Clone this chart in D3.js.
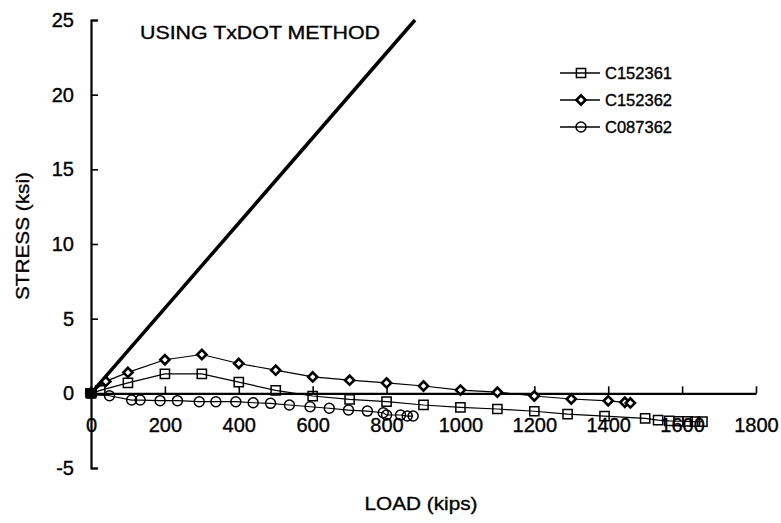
<!DOCTYPE html>
<html>
<head>
<meta charset="utf-8">
<script src="https://cdn.jsdelivr.net/npm/d3@7"></script>
<style>
  html, body { margin: 0; padding: 0; background: #fff; }
  svg { display: block; font-family: "Liberation Sans", Arial, sans-serif; }
</style>
</head>
<body>
<svg id="chart" width="781" height="523"></svg>
<script>
// ---- data ----
const seriesNames = ["C152361", "C152362", "C087362"];
const loadC152361 = [0, 25, 100, 200, 300, 400, 500, 600, 700, 800, 900, 1000, 1100, 1200, 1290, 1390, 1500, 1535, 1565, 1590, 1615, 1635, 1655];
const stressC152361 = [0, 0.2, 0.7, 1.3, 1.3, 0.75, 0.2, -0.18, -0.4, -0.56, -0.78, -0.94, -1.05, -1.2, -1.39, -1.52, -1.68, -1.79, -1.85, -1.87, -1.88, -1.89, -1.9];
const loadC152362 = [0, 40, 100, 200, 300, 400, 500, 600, 700, 800, 900, 1000, 1100, 1200, 1300, 1400, 1445, 1460];
const stressC152362 = [0, 0.8, 1.4, 2.25, 2.6, 2.0, 1.55, 1.1, 0.88, 0.7, 0.49, 0.22, 0.08, -0.18, -0.38, -0.5, -0.6, -0.64];
const loadC087362 = [0, 50, 110, 133, 187, 234, 293, 338, 392, 439, 486, 537, 593, 645, 697, 748, 791, 800, 838, 856, 872];
const stressC087362 = [0, -0.16, -0.45, -0.45, -0.49, -0.49, -0.56, -0.56, -0.56, -0.63, -0.67, -0.78, -0.9, -1.0, -1.12, -1.19, -1.3, -1.45, -1.45, -1.52, -1.52];
const txdotLoad = [0, 877];
const txdotStress = [0, 25];
const xTicks = [0, 200, 400, 600, 800, 1000, 1200, 1400, 1600, 1800];
const yTicks = [-5, 0, 5, 10, 15, 20, 25];
const titleText = "USING TxDOT METHOD";
const xTitle = "LOAD (kips)";
const yTitle = "STRESS (ksi)";

// ---- setup ----
const svg = d3.select("#chart");
const x = d3.scaleLinear().domain([0, 1800]).range([91, 756]);
const y = d3.scaleLinear().domain([-5, 25]).range([468, 20]);
const fmt = d => String(d);
const textStroke = sel => sel.attr("fill", "#000").attr("stroke", "#000").attr("stroke-width", 0.35);

const series = [
  { name: seriesNames[0], load: loadC152361, stress: stressC152361, shape: "square" },
  { name: seriesNames[1], load: loadC152362, stress: stressC152362, shape: "diamond" },
  { name: seriesNames[2], load: loadC087362, stress: stressC087362, shape: "circle" }
];

// axes
const xAxis = svg.append("g")
  .attr("transform", `translate(0,${y(0)})`)
  .call(d3.axisBottom(x).tickValues(xTicks).tickFormat(fmt)
    .tickSize(-7).tickSizeOuter(0).tickPadding(24));
xAxis.select(".domain").attr("stroke-width", 2.2);
xAxis.selectAll(".tick line").attr("stroke-width", 1.6);
xAxis.selectAll("text").attr("font-size", 20)
  .attr("font-family", "'Liberation Sans', Arial, sans-serif").call(textStroke);

const yAxis = svg.append("g")
  .attr("transform", `translate(${x(0)},0)`)
  .call(d3.axisLeft(y).tickValues(yTicks).tickFormat(fmt)
    .tickSize(-7).tickSizeOuter(-7).tickPadding(17));
yAxis.select(".domain").attr("stroke-width", 2.2);
yAxis.selectAll(".tick line").attr("stroke-width", 1.6);
yAxis.selectAll("text").attr("font-size", 20)
  .attr("font-family", "'Liberation Sans', Arial, sans-serif").call(textStroke);

// TxDOT line
svg.append("path")
  .datum(txdotLoad.map((d, i) => [d, txdotStress[i]]))
  .attr("fill", "none").attr("stroke", "#000").attr("stroke-width", 3.5)
  .attr("d", d3.line().x(d => x(d[0])).y(d => y(d[1])));

// markers
function drawMarker(g, shape, cx, cy) {
  let s;
  if (shape === "diamond") {
    s = g.append("path")
      .attr("d", d3.symbol().type(d3.symbolSquare).size(42)())
      .attr("transform", `translate(${cx},${cy}) rotate(45)`)
      .attr("fill", "#fff").attr("stroke", "#000").attr("stroke-width", 2.6);
  } else if (shape === "square") {
    s = g.append("path")
      .attr("d", d3.symbol().type(d3.symbolSquare).size(85)())
      .attr("transform", `translate(${cx},${cy})`)
      .attr("fill", "none").attr("stroke", "#000").attr("stroke-width", 1.5);
  } else {
    s = g.append("path")
      .attr("d", d3.symbol().type(d3.symbolCircle).size(78)())
      .attr("transform", `translate(${cx},${cy})`)
      .attr("fill", "none").attr("stroke", "#000").attr("stroke-width", 1.5);
  }
  return s;
}

series.forEach(s => {
  const pts = s.load.map((d, i) => [d, s.stress[i]]);
  svg.append("path").datum(pts)
    .attr("fill", "none").attr("stroke", "#000").attr("stroke-width", 1.2)
    .attr("d", d3.line().x(d => x(d[0])).y(d => y(d[1])));
  const g = svg.append("g");
  pts.forEach(p => drawMarker(g, s.shape, x(p[0]), y(p[1])));
});

// origin blob
svg.append("rect").attr("x", x(0) - 6).attr("y", y(0) - 5).attr("width", 12).attr("height", 9).attr("fill", "#000");

// title
svg.append("text").attr("x", 140).attr("y", 39).attr("font-size", 19)
  .attr("textLength", 240).attr("lengthAdjust", "spacingAndGlyphs").call(textStroke).text(titleText);

// axis titles
svg.append("text").attr("x", 421).attr("y", 510).attr("text-anchor", "middle")
  .attr("font-size", 19).attr("textLength", 113).attr("lengthAdjust", "spacingAndGlyphs").call(textStroke).text(xTitle);
svg.append("text").attr("transform", "translate(29,236) rotate(-90)").attr("text-anchor", "middle")
  .attr("font-size", 19).attr("textLength", 128).attr("lengthAdjust", "spacingAndGlyphs").call(textStroke).text(yTitle);

// legend
const legend = svg.append("g");
series.forEach((s, i) => {
  const ly = 73 + i * 27;
  legend.append("line").attr("x1", 560).attr("x2", 600).attr("y1", ly).attr("y2", ly)
    .attr("stroke", "#000").attr("stroke-width", 1.6);
  drawMarker(legend, s.shape, 581, ly);
  legend.append("text").attr("x", 605).attr("y", ly + 6).attr("font-size", 16)
    .attr("textLength", 67).attr("lengthAdjust", "spacingAndGlyphs").call(textStroke).text(s.name);
});
</script>
</body>
</html>
